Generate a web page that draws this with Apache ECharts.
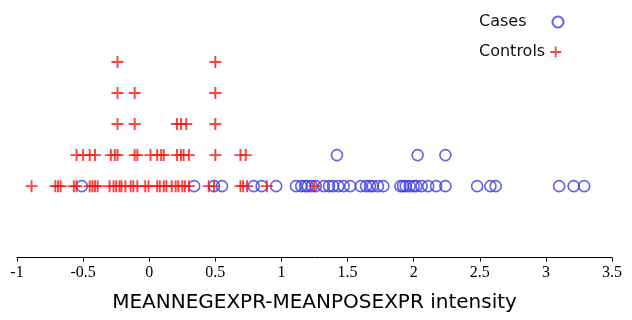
<!DOCTYPE html>
<html lang="en">
<head>
    <meta charset="UTF-8">
    <title>Cases vs Controls</title>
    <script src="https://cdn.jsdelivr.net/npm/echarts/dist/echarts.min.js"></script>
    <style>
        body { margin: 0; background: #fff; }
    </style>
</head>
<body>
<div id="main" style="width: 632px;height: 320px"></div>
<script type="text/javascript">
    // values, one array per stacked row
    var casesRow0 = [-0.51, 0.34, 0.49, 0.55, 0.79, 0.85, 0.96, 1.11, 1.15, 1.18, 1.20, 1.23, 1.26,
        1.32, 1.36, 1.39, 1.43, 1.47, 1.52, 1.60, 1.64, 1.67, 1.69, 1.73, 1.77,
        1.90, 1.92, 1.94, 1.97, 2.00, 2.02, 2.06, 2.11, 2.17, 2.24,
        2.48, 2.58, 2.62, 3.10, 3.21, 3.29];
    var casesRow1 = [1.42, 2.03, 2.24];

    var controlsRow0 = [-0.89, -0.71, -0.69, -0.67, -0.57, -0.55, -0.45, -0.43, -0.41, -0.39,
        -0.30, -0.27, -0.25, -0.225, -0.21, -0.18, -0.14, -0.12, -0.09, -0.03, -0.005,
        0.06, 0.08, 0.11, 0.13, 0.17, 0.20, 0.22, 0.25, 0.27, 0.30,
        0.45, 0.49, 0.69, 0.71, 0.74, 0.89, 1.25];
    var controlsRow1 = [-0.55, -0.50, -0.45, -0.41, -0.29, -0.26, -0.24, -0.11, -0.09,
        0.01, 0.06, 0.09, 0.11, 0.21, 0.24, 0.26, 0.30, 0.50, 0.69, 0.73];
    var controlsRow2 = [-0.24, -0.11, 0.21, 0.24, 0.28, 0.50];
    var controlsRow3 = [-0.24, -0.11, 0.50];
    var controlsRow4 = [-0.24, 0.50];

    var xTicks = [-1, -0.5, 0, 0.5, 1, 1.5, 2, 2.5, 3, 3.5];

    function rows(list) {
        var out = [];
        for (var r = 0; r < list.length; r++) {
            for (var i = 0; i < list[r].length; i++) {
                out.push([list[r][i], r]);
            }
        }
        return out;
    }

    var plus = 'path://M4.2,0h1.6v4.2h4.2v1.6h-4.2v4.2h-1.6v-4.2h-4.2v-1.6h4.2z';

    // one legend per entry so the icons can sit at their own x
    function legendItem(name, top, padRight) {
        return {
            data: [name], left: 474, top: top, align: 'right',
            itemWidth: 11, itemHeight: 11,
            formatter: function (n) { return '{t|' + n + '}'; },
            textStyle: {
                fontSize: 16, color: '#111', fontFamily: 'DejaVu Sans',
                rich: { t: { padding: [0, padRight, 0, 0], fontSize: 16, fontFamily: 'DejaVu Sans', color: '#111' } }
            }
        };
    }

    var myChart = echarts.init(document.getElementById('main'));
    var option = {
        animation: false,
        grid: { left: 17, right: 20, top: 31, bottom: 62.5 },
        legend: [legendItem('Cases', 9, 21), legendItem('Controls', 39, 0)],
        xAxis: {
            type: 'value',
            min: xTicks[0],
            max: xTicks[xTicks.length - 1],
            interval: 0.5,
            splitLine: { show: false },
            axisLine: { onZero: false, lineStyle: { color: '#000', width: 1 } },
            axisTick: { length: 4, lineStyle: { color: '#000' } },
            axisLabel: { color: '#000', fontSize: 16, margin: 7, fontFamily: 'Liberation Sans Narrow' },
            name: 'MEANNEGEXPR-MEANPOSEXPR intensity',
            nameLocation: 'middle',
            nameGap: 35,
            nameTextStyle: { color: '#000', fontSize: 20, fontFamily: 'DejaVu Sans' }
        },
        yAxis: {
            type: 'value',
            min: -2.3,
            max: 5,
            show: false
        },
        series: [
            {
                name: 'Cases',
                type: 'scatter',
                symbol: 'circle',
                symbolSize: 11,
                itemStyle: { color: 'rgba(0,0,0,0)', borderColor: '#3a3ae6', borderWidth: 1.6 },
                data: rows([casesRow0, casesRow1])
            },
            {
                name: 'Controls',
                type: 'scatter',
                symbol: plus,
                symbolSize: 12,
                itemStyle: { color: '#ff1010' },
                data: rows([controlsRow0, controlsRow1, controlsRow2, controlsRow3, controlsRow4])
            }
        ]
    };
    myChart.setOption(option);
</script>
</body>
</html>
